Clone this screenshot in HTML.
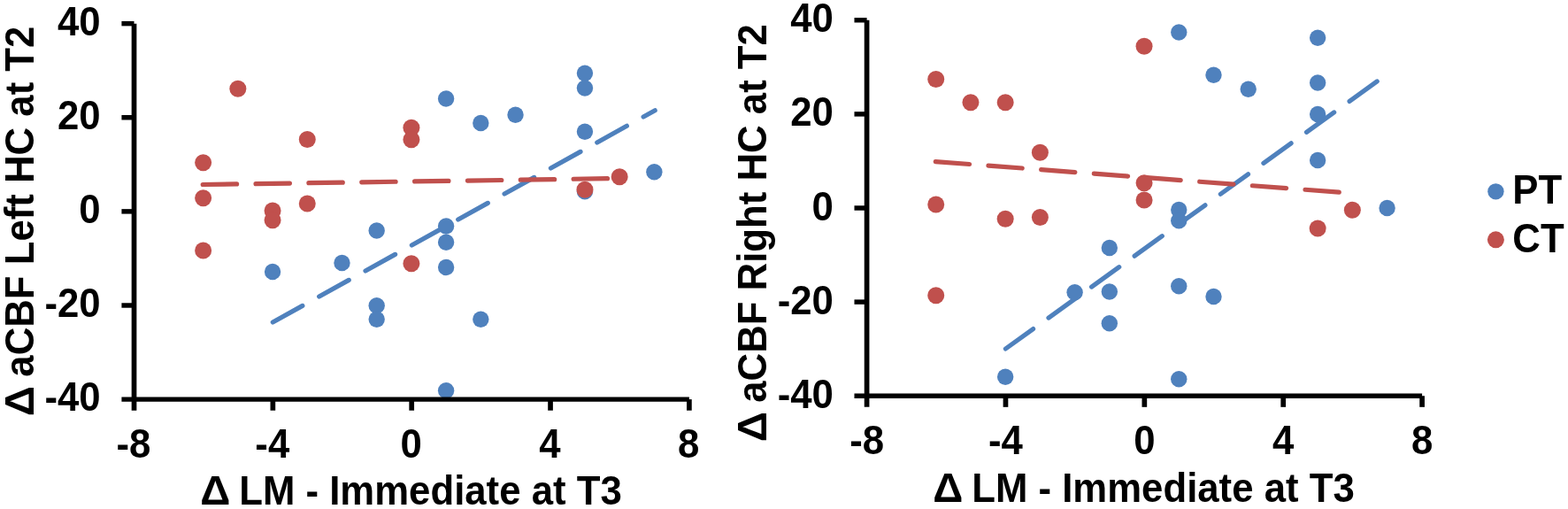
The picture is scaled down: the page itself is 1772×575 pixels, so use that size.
<!DOCTYPE html>
<html lang="en">
<head>
<meta charset="utf-8">
<title>Δ aCBF vs Δ LM - Immediate at T3</title>
<style>
html,body{margin:0;padding:0;background:#fff;}
body{width:1772px;height:575px;overflow:hidden;}
svg{display:block;}
text{font-family:"Liberation Sans",sans-serif;font-weight:bold;font-size:43.75px;fill:#000;}
</style>
</head>
<body>
<svg width="1772" height="575" viewBox="0 0 1772 575">
<rect width="1772" height="575" fill="#fff"/>
<g id="left-chart">
<line x1="308.30" y1="364.00" x2="740.20" y2="124.70" stroke="#4F81BD" stroke-width="5.2" stroke-linecap="round" stroke-dasharray="38.4 21.45"/>
<line x1="229.20" y1="208.50" x2="700.00" y2="201.50" stroke="#C0504D" stroke-width="5.2" stroke-linecap="round" stroke-dasharray="38.4 21.45"/>
<circle cx="308.06" cy="307.05" r="9.2" fill="#4F81BD"/>
<circle cx="386.48" cy="297.05" r="9.2" fill="#4F81BD"/>
<circle cx="425.69" cy="260.55" r="9.2" fill="#4F81BD"/>
<circle cx="425.69" cy="345.30" r="9.2" fill="#4F81BD"/>
<circle cx="425.69" cy="360.80" r="9.2" fill="#4F81BD"/>
<circle cx="504.11" cy="111.55" r="9.2" fill="#4F81BD"/>
<circle cx="504.11" cy="255.55" r="9.2" fill="#4F81BD"/>
<circle cx="504.11" cy="273.80" r="9.2" fill="#4F81BD"/>
<circle cx="504.11" cy="302.05" r="9.2" fill="#4F81BD"/>
<circle cx="504.11" cy="441.30" r="9.2" fill="#4F81BD"/>
<circle cx="543.32" cy="139.05" r="9.2" fill="#4F81BD"/>
<circle cx="543.32" cy="360.80" r="9.2" fill="#4F81BD"/>
<circle cx="582.53" cy="129.80" r="9.2" fill="#4F81BD"/>
<circle cx="660.95" cy="82.80" r="9.2" fill="#4F81BD"/>
<circle cx="660.95" cy="99.55" r="9.2" fill="#4F81BD"/>
<circle cx="660.95" cy="148.80" r="9.2" fill="#4F81BD"/>
<circle cx="660.95" cy="216.30" r="9.2" fill="#4F81BD"/>
<circle cx="739.37" cy="194.30" r="9.2" fill="#4F81BD"/>
<circle cx="229.64" cy="183.80" r="9.5" fill="#C0504D"/>
<circle cx="229.64" cy="223.80" r="9.5" fill="#C0504D"/>
<circle cx="229.64" cy="283.05" r="9.5" fill="#C0504D"/>
<circle cx="268.85" cy="100.30" r="9.5" fill="#C0504D"/>
<circle cx="308.06" cy="238.05" r="9.5" fill="#C0504D"/>
<circle cx="308.06" cy="248.80" r="9.5" fill="#C0504D"/>
<circle cx="347.27" cy="157.55" r="9.5" fill="#C0504D"/>
<circle cx="347.27" cy="230.05" r="9.5" fill="#C0504D"/>
<circle cx="464.90" cy="144.30" r="9.5" fill="#C0504D"/>
<circle cx="464.90" cy="157.80" r="9.5" fill="#C0504D"/>
<circle cx="464.90" cy="297.80" r="9.5" fill="#C0504D"/>
<circle cx="660.95" cy="214.30" r="9.5" fill="#C0504D"/>
<circle cx="700.16" cy="199.80" r="9.5" fill="#C0504D"/>
<g stroke="#000" stroke-width="5.7" fill="none">
<path d="M151.52 26.63V463.71"/>
<path d="M308.36 451.11V463.71"/>
<path d="M465.20 451.11V463.71"/>
<path d="M622.04 451.11V463.71"/>
<path d="M778.88 451.11V463.71"/>
</g>
<g stroke="#000" stroke-width="5.45" fill="none">
<path d="M137.42 451.11H778.88"/>
<path d="M137.42 26.63H151.52"/>
<path d="M137.42 132.75H151.52"/>
<path d="M137.42 238.87H151.52"/>
<path d="M137.42 344.99H151.52"/>
</g>
<text transform="translate(113.7 39.83) scale(1 1.055)" text-anchor="end">40</text>
<text transform="translate(113.7 145.95) scale(1 1.055)" text-anchor="end">20</text>
<text transform="translate(113.7 252.07) scale(1 1.055)" text-anchor="end">0</text>
<text transform="translate(113.7 358.19) scale(1 1.055)" text-anchor="end">-20</text>
<text transform="translate(113.7 464.31) scale(1 1.055)" text-anchor="end">-40</text>
<text transform="translate(150.92 516.6) scale(1 1.055)" text-anchor="middle">-8</text>
<text transform="translate(307.76 516.6) scale(1 1.055)" text-anchor="middle">-4</text>
<text transform="translate(464.6 516.6) scale(1 1.055)" text-anchor="middle">0</text>
<text transform="translate(621.44 516.6) scale(1 1.055)" text-anchor="middle">4</text>
<text transform="translate(778.28 516.6) scale(1 1.055)" text-anchor="middle">8</text>
<text transform="translate(464.5 569.8) scale(1 1.055)" text-anchor="middle"><tspan textLength="34.1" lengthAdjust="spacingAndGlyphs">Δ</tspan><tspan dx="-2.35"> LM - Immediate at T3</tspan></text>
<text transform="translate(37.9 29.6) rotate(-90) scale(1 1.055)" text-anchor="end"><tspan textLength="34.1" lengthAdjust="spacingAndGlyphs">Δ</tspan><tspan dx="-1.75"> aCBF Left HC at T2</tspan></text>
</g>
<g id="right-chart">
<line x1="1136.40" y1="394.00" x2="1566.20" y2="84.80" stroke="#4F81BD" stroke-width="5.2" stroke-linecap="round" stroke-dasharray="38.4 21.45"/>
<line x1="1057.25" y1="182.60" x2="1526.75" y2="218.20" stroke="#C0504D" stroke-width="5.2" stroke-linecap="round" stroke-dasharray="38.4 21.45"/>
<circle cx="1136.17" cy="425.80" r="9.2" fill="#4F81BD"/>
<circle cx="1214.61" cy="330.30" r="9.2" fill="#4F81BD"/>
<circle cx="1253.83" cy="280.05" r="9.2" fill="#4F81BD"/>
<circle cx="1253.83" cy="329.55" r="9.2" fill="#4F81BD"/>
<circle cx="1253.83" cy="365.30" r="9.2" fill="#4F81BD"/>
<circle cx="1332.27" cy="36.55" r="9.2" fill="#4F81BD"/>
<circle cx="1332.27" cy="237.05" r="9.2" fill="#4F81BD"/>
<circle cx="1332.27" cy="249.30" r="9.2" fill="#4F81BD"/>
<circle cx="1332.27" cy="323.30" r="9.2" fill="#4F81BD"/>
<circle cx="1332.27" cy="428.30" r="9.2" fill="#4F81BD"/>
<circle cx="1371.49" cy="84.80" r="9.2" fill="#4F81BD"/>
<circle cx="1371.49" cy="335.05" r="9.2" fill="#4F81BD"/>
<circle cx="1410.71" cy="100.80" r="9.2" fill="#4F81BD"/>
<circle cx="1489.15" cy="42.80" r="9.2" fill="#4F81BD"/>
<circle cx="1489.15" cy="93.55" r="9.2" fill="#4F81BD"/>
<circle cx="1489.15" cy="129.05" r="9.2" fill="#4F81BD"/>
<circle cx="1489.15" cy="181.05" r="9.2" fill="#4F81BD"/>
<circle cx="1567.59" cy="235.05" r="9.2" fill="#4F81BD"/>
<circle cx="1057.73" cy="89.55" r="9.5" fill="#C0504D"/>
<circle cx="1057.73" cy="231.05" r="9.5" fill="#C0504D"/>
<circle cx="1057.73" cy="333.80" r="9.5" fill="#C0504D"/>
<circle cx="1096.95" cy="115.80" r="9.5" fill="#C0504D"/>
<circle cx="1136.17" cy="115.80" r="9.5" fill="#C0504D"/>
<circle cx="1136.17" cy="247.30" r="9.5" fill="#C0504D"/>
<circle cx="1175.39" cy="172.30" r="9.5" fill="#C0504D"/>
<circle cx="1175.39" cy="245.55" r="9.5" fill="#C0504D"/>
<circle cx="1293.05" cy="52.30" r="9.5" fill="#C0504D"/>
<circle cx="1293.05" cy="206.80" r="9.5" fill="#C0504D"/>
<circle cx="1293.05" cy="226.05" r="9.5" fill="#C0504D"/>
<circle cx="1489.15" cy="258.05" r="9.5" fill="#C0504D"/>
<circle cx="1528.37" cy="237.30" r="9.5" fill="#C0504D"/>
<g stroke="#000" stroke-width="5.7" fill="none">
<path d="M979.59 22.76V459.84"/>
<path d="M1136.47 447.24V459.84"/>
<path d="M1293.35 447.24V459.84"/>
<path d="M1450.23 447.24V459.84"/>
<path d="M1607.11 447.24V459.84"/>
</g>
<g stroke="#000" stroke-width="5.45" fill="none">
<path d="M965.49 447.24H1607.11"/>
<path d="M965.49 22.76H979.59"/>
<path d="M965.49 128.88H979.59"/>
<path d="M965.49 235.00H979.59"/>
<path d="M965.49 341.12H979.59"/>
</g>
<text transform="translate(941.9 36.36) scale(1 1.055)" text-anchor="end">40</text>
<text transform="translate(941.9 142.48) scale(1 1.055)" text-anchor="end">20</text>
<text transform="translate(941.9 248.6) scale(1 1.055)" text-anchor="end">0</text>
<text transform="translate(941.9 354.72) scale(1 1.055)" text-anchor="end">-20</text>
<text transform="translate(941.9 460.84) scale(1 1.055)" text-anchor="end">-40</text>
<text transform="translate(979.59 513) scale(1 1.055)" text-anchor="middle">-8</text>
<text transform="translate(1136.47 513) scale(1 1.055)" text-anchor="middle">-4</text>
<text transform="translate(1293.35 513) scale(1 1.055)" text-anchor="middle">0</text>
<text transform="translate(1450.23 513) scale(1 1.055)" text-anchor="middle">4</text>
<text transform="translate(1607.11 513) scale(1 1.055)" text-anchor="middle">8</text>
<text transform="translate(1292.5 566.8) scale(1 1.055)" text-anchor="middle"><tspan textLength="34.1" lengthAdjust="spacingAndGlyphs">Δ</tspan><tspan dx="-2.35"> LM - Immediate at T3</tspan></text>
<text transform="translate(866.0 27.1) rotate(-90) scale(1 1.055)" text-anchor="end"><tspan textLength="34.1" lengthAdjust="spacingAndGlyphs">Δ</tspan><tspan dx="-1.75"> aCBF Right HC at T2</tspan></text>
</g>
<g id="legend">
<circle cx="1690.4" cy="216.35" r="9.2" fill="#4F81BD"/>
<circle cx="1690.4" cy="270.85" r="9.5" fill="#C0504D"/>
<text transform="translate(1709.3 229.6) scale(1 1.055)" text-anchor="start">PT</text>
<text transform="translate(1709.3 284.6) scale(1 1.055)" text-anchor="start">CT</text>
</g>
</svg>
</body>
</html>
